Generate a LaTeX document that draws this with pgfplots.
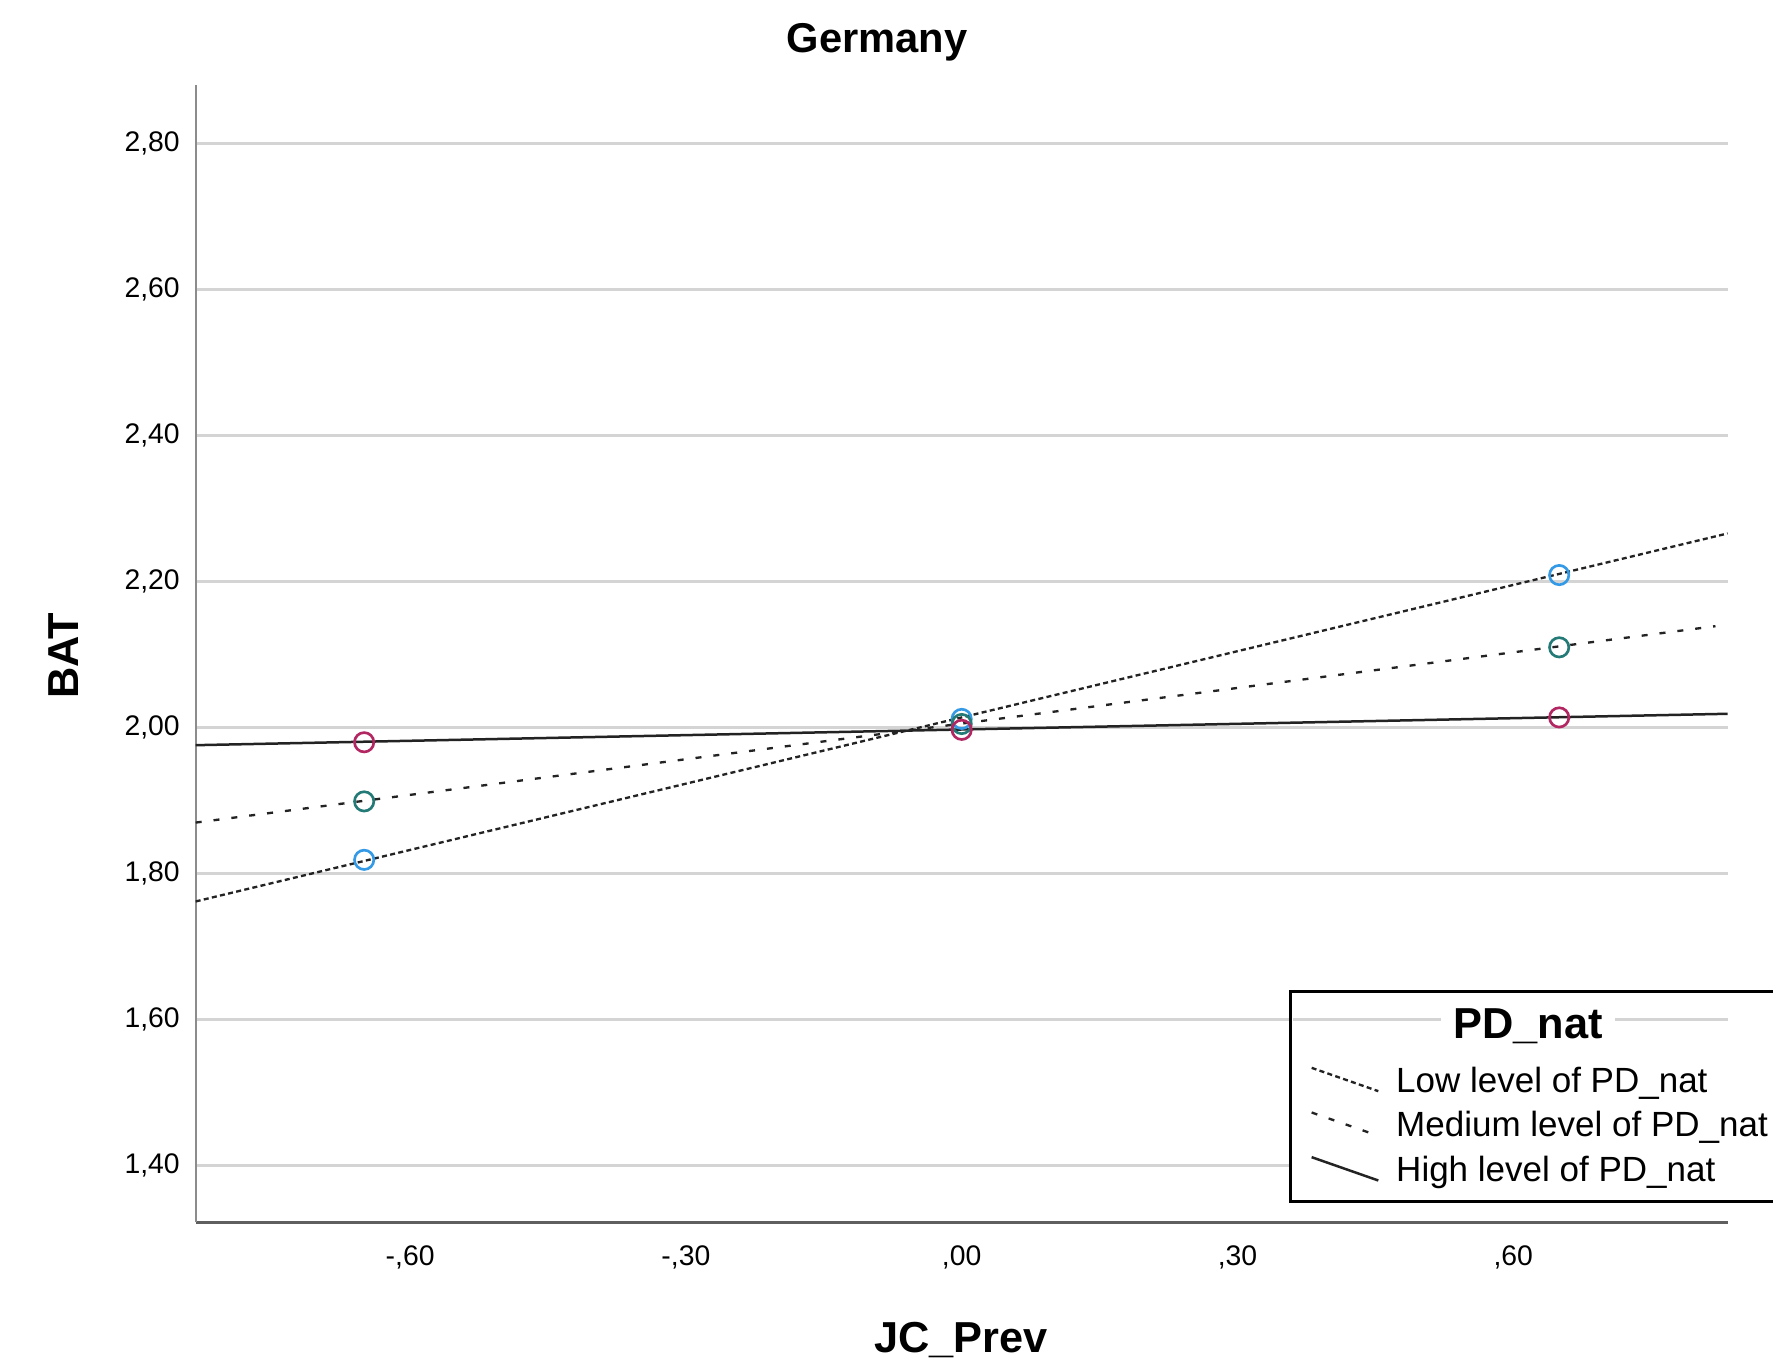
\documentclass[border=0pt]{standalone}
\usepackage{fontspec}
\setmainfont{Liberation Sans}
\usepackage{pgfplots}
\pgfplotsset{compat=1.18}
\definecolor{gridc}{RGB}{212,212,212}
\definecolor{lowc}{RGB}{52,154,230}
\definecolor{medc}{RGB}{36,122,118}
\definecolor{highc}{RGB}{178,38,98}
\definecolor{linec}{RGB}{35,35,35}
\pgfplotsset{diagleg/.style={legend image code/.code={\draw[##1] (0pt,4.5pt) -- (20pt,-2.5pt);}}}
\begin{document}
\begin{tikzpicture}
\begin{axis}[
  at={(0,0)}, anchor=south west,
  scale only axis, width=459.6pt, height=341.3pt,
  xmin=-0.8333, xmax=0.8333, ymin=1.3225, ymax=2.8806,
  axis x line*=bottom, axis y line*=left,
  x axis line style={draw={rgb,255:red,95;green,95;blue,95}, line width=0.8pt, -},
  y axis line style={draw={rgb,255:red,140;green,140;blue,140}, line width=0.6pt, -},
  xtick={-0.6,-0.3,0,0.3,0.6},
  xticklabels={{-,60},{-,30},{,00},{,30},{,60}},
  ytick={1.4,1.6,1.8,2.0,2.2,2.4,2.6,2.8},
  yticklabels={{1,40},{1,60},{1,80},{2,00},{2,20},{2,40},{2,60},{2,80}},
  major tick length=0pt,
  ymajorgrids, grid style={draw=gridc, line width=0.8pt},
  tick label style={font=\fontsize{8.5}{10}\selectfont, text=black},
  xticklabel style={anchor=base, inner sep=0pt, yshift=-12.9pt},
  yticklabel style={anchor=east, inner sep=0pt, xshift=-4.6pt},
  title={Germany},
  title style={at={(axis description cs:0.4447,1.011)}, anchor=base, inner sep=0pt, font=\bfseries\fontsize{12.5}{15}\selectfont},
  xlabel={JC\_Prev},
  xlabel style={at={(axis description cs:0.4996,-0.114)}, anchor=base, inner sep=0pt, font=\bfseries\fontsize{13}{15}\selectfont},
  ylabel={BAT},
  ylabel style={at={(axis description cs:-0.0863,0.4978)}, anchor=center, inner sep=0pt, font=\bfseries\fontsize{13}{15}\selectfont},
  legend cell align=left,
  legend style={at={(axis description cs:0.7137,0.0173)}, anchor=south west,
    draw=black, line width=0.8pt, fill=white,
    inner xsep=6pt, inner ysep=3.7pt, row sep=3.3pt, column sep=5.0pt,
    font=\fontsize{10.5}{12}\selectfont,
    nodes={inner sep=0pt, text height=7.8pt, text depth=2.3pt}},
]
\addlegendimage{empty legend}
\addlegendentry[text height=10.3pt, text depth=5.1pt]{\hspace*{17.1pt}\textbf{\fontsize{13}{15}\selectfont PD\_nat}}

% observed points
\addplot[only marks, mark=o, mark size=2.9pt, draw=lowc, line width=0.8pt, forget plot]
  coordinates {(-0.65,1.819) (0,2.012) (0.65,2.209)};
\addplot[only marks, mark=o, mark size=2.9pt, draw=medc, line width=0.8pt, forget plot]
  coordinates {(-0.65,1.899) (0,2.005) (0.65,2.110)};
\addplot[only marks, mark=o, mark size=2.9pt, draw=highc, line width=0.8pt, forget plot]
  coordinates {(-0.65,1.980) (0,1.997) (0.65,2.014)};

% fit lines
\addplot[linec, line width=0.7pt, dash pattern=on 1.5pt off 1pt, diagleg]
  coordinates {(-0.8333,1.762) (0.8333,2.266)};
\addlegendentry{Low level of PD\_nat}
\addplot[linec, line width=0.7pt, dash pattern=on 1.8pt off 3.6pt, diagleg]
  coordinates {(-0.8333,1.870) (0.82,2.139)};
\addlegendentry{Medium level of PD\_nat}
\addplot[linec, line width=0.75pt, diagleg]
  coordinates {(-0.8333,1.976) (0.8333,2.019)};
\addlegendentry{High level of PD\_nat}

\coordinate (d1) at (axis cs:0.360,1.6);
\coordinate (d2) at (axis cs:0.5213,1.6);
\coordinate (d3) at (axis cs:0.7107,1.6);
\coordinate (d4) at (axis cs:0.8336,1.6);
\end{axis}
\draw[gridc, line width=0.8pt] (d1) -- (d2) (d3) -- (d4);
\pgfresetboundingbox
\path[use as bounding box] (-58.7pt,-41.3pt) rectangle (473.2pt,366.7pt);
\end{tikzpicture}
\end{document}
